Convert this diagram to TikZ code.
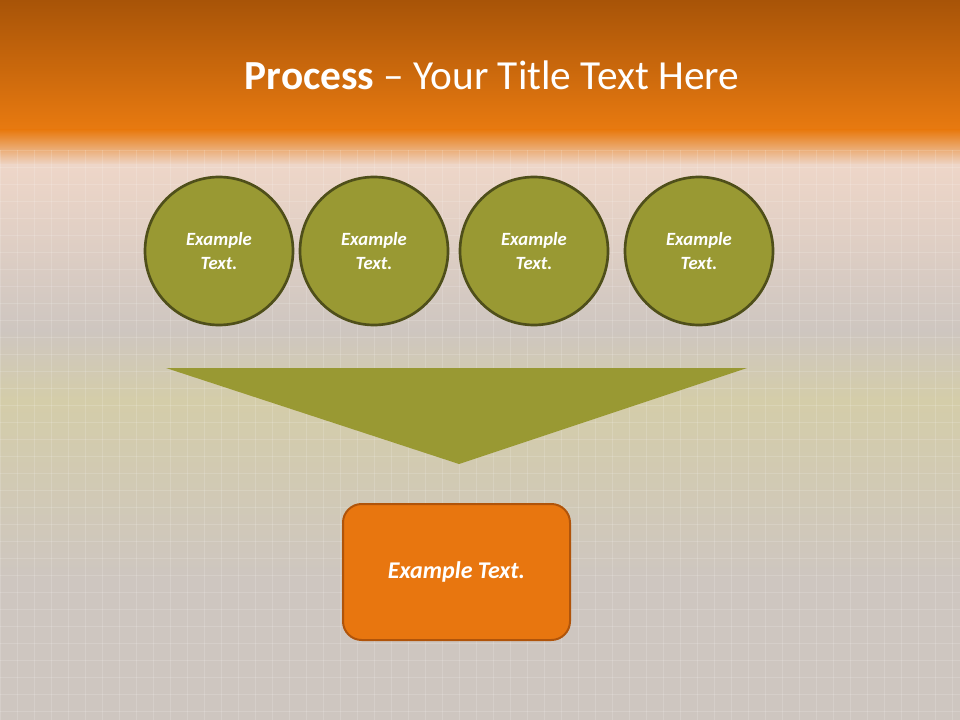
\documentclass[tikz,border=0pt]{standalone}
\usepackage{fontspec}
\setmainfont{Carlito}
\begin{document}
\begin{tikzpicture}[x=0.75pt,y=-0.75pt,
  circ/.style={circle,draw=cborder,line width=2pt,fill=olive1,minimum size=148*0.75pt,inner sep=0pt,text=white,font=\bfseries\itshape\fontsize{14}{17.5}\selectfont,align=center},
  boxst/.style={rounded corners=14pt,draw=bborder,line width=1.5pt,fill=orange1,text=white,font=\bfseries\itshape\fontsize{18}{21}\selectfont}]
\definecolor{olive1}{HTML}{999933}
\definecolor{cborder}{HTML}{4F4F1A}
\definecolor{orange1}{HTML}{E8760F}
\definecolor{bborder}{HTML}{B0540A}
\definecolor{topdark}{HTML}{A85408}
\definecolor{topor}{HTML}{E87A10}
\definecolor{bg}{HTML}{CEC6C0}
\definecolor{pinkish}{HTML}{EED6C8}
\useasboundingbox (0,0) rectangle (960,720);
\fill[bg] (0,0) rectangle (960,720);
\shade[top color=topdark,bottom color=topor] (0,0) rectangle (960,130);
\shade[top color=topor,bottom color=pinkish] (0,130) rectangle (960,165);
\shade[top color=pinkish,bottom color=bg] (0,165) rectangle (960,330);
\shade[top color=bg,bottom color=yellow!12!bg] (0,330) rectangle (960,400);
\shade[top color=yellow!12!bg,bottom color=bg] (0,400) rectangle (960,580);
\foreach \x in {0,17,...,960} \draw[white,opacity=0.15] (\x,150) -- (\x,720);
\foreach \y in {150,167,...,720} \draw[white,opacity=0.15] (0,\y) -- (960,\y);
\node[text=white,font=\fontsize{31}{36}\selectfont] (title) at (492,75) {\textbf{Process} – Your Title Text Here};
\node[circ] (c1) at (219,251) {Example\\Text.};
\node[circ] (c2) at (374,251) {Example\\Text.};
\node[circ] (c3) at (534,251) {Example\\Text.};
\node[circ] (c4) at (699,251) {Example\\Text.};
\fill[olive1] (166,368) -- (747,368) -- (459,464) -- cycle;
\node[boxst,minimum width=227*0.75pt,minimum height=136*0.75pt] (box) at (456.5,572) {Example Text.};
\end{tikzpicture}
\end{document}
